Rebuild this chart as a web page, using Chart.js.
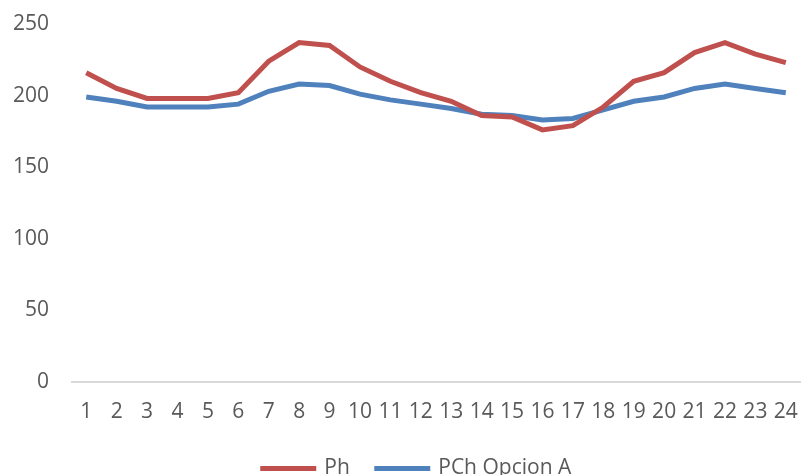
<!DOCTYPE html>
<html>
<head>
  <meta charset="UTF-8"/>
  <title>Ph vs PCh Opcion A</title>
  <style>
    html, body { margin: 0; padding: 0; background: #fff; }
    #wrap { width: 801px; height: 475px; }
  </style>
  <script src="https://cdn.jsdelivr.net/npm/chart.js"></script>
</head>
<body>
  <div id="wrap"><canvas id="myChart" width="801" height="475"></canvas></div>
  <script>
    // horas 1..24
    const horas = ['1','2','3','4','5','6','7','8','9','10','11','12','13','14','15','16','17','18','19','20','21','22','23','24'];
    const ph = [216, 205, 198, 198, 198, 202, 224, 237, 235, 220, 210, 202, 196, 186, 185, 176, 179, 192, 210, 216, 230, 237, 229, 223];
    const pchOpcionA = [199, 196, 192, 192, 192, 194, 203, 208, 207, 201, 197, 194, 191, 187, 186, 183, 184, 190, 196, 199, 205, 208, 205, 202];
    const yTicks = [0, 50, 100, 150, 200, 250];

    const FONT = { family: 'Open Sans', size: 21 };
    const GRIS = '#595959';

    // la leyenda queda mas pegada al borde inferior (y algo a la derecha)
    const leyendaBaja = {
      id: 'leyendaBaja',
      beforeLayout(chart) {
        const lg = chart.legend;
        if (!lg || lg._bajada) return;
        const fit = lg.fit;
        lg.fit = function () { fit.call(this); this.height -= 14; };
        lg._bajada = true;
      },
      afterLayout(chart) {
        const lg = chart.legend;
        if (!lg) return;
        lg.left += 10;
        lg.right += 10;
      }
    };

    const ctx = document.getElementById('myChart').getContext('2d');
    const chart = new Chart(ctx, {
      type: 'line',
      data: {
        labels: horas,
        datasets: [{
          label: 'Ph',
          data: ph,
          borderColor: '#C0504D',
          backgroundColor: '#C0504D',
          borderWidth: 5,
          pointRadius: 0,
          tension: 0
        }, {
          label: 'PCh Opcion A',
          data: pchOpcionA,
          borderColor: '#4F81BD',
          backgroundColor: '#4F81BD',
          borderWidth: 5,
          pointRadius: 0,
          tension: 0
        }]
      },
      plugins: [leyendaBaja],
      options: {
        responsive: false,
        animation: false,
        layout: { padding: { top: 24, right: 0, left: 13, bottom: 0 } },
        plugins: {
          legend: {
            position: 'bottom',
            labels: {
              boxWidth: 51,
              boxHeight: 0.1,
              padding: 27,
              color: GRIS,
              font: FONT
            }
          },
          tooltip: { enabled: false }
        },
        scales: {
          x: {
            offset: true,
            grid: { display: false, drawTicks: false },
            border: { display: false },
            afterFit: axis => { axis.height -= 12; axis.paddingLeft = 0; axis.paddingRight = 0; },
            ticks: {
              color: GRIS,
              padding: 18,
              maxRotation: 0,
              autoSkip: false,
              font: FONT
            }
          },
          y: {
            min: 0,
            max: 250,
            afterBuildTicks: axis => { axis.ticks = yTicks.map(v => ({ value: v })); },
            afterFit: axis => { axis.width -= 22; axis.paddingTop = 0; axis.paddingBottom = 0; },
            grid: {
              drawTicks: false,
              color: c => c.tick && c.tick.value === 0 ? '#D9D9D9' : 'rgba(0,0,0,0)',
              lineWidth: 2
            },
            border: { display: false },
            ticks: {
              color: GRIS,
              padding: 22,
              font: FONT
            }
          }
        }
      }
    });
  </script>
</body>
</html>
